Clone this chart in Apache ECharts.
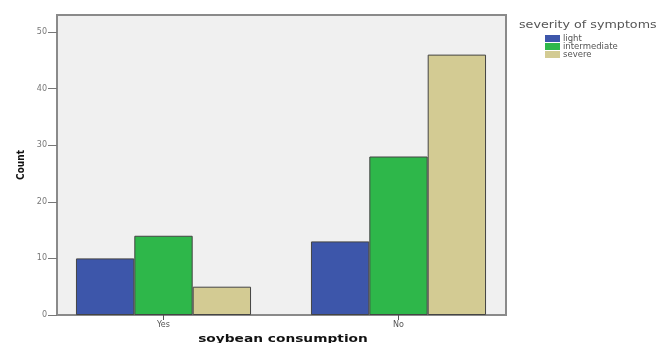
<!DOCTYPE html>
<html><head><meta charset="utf-8">
<script src="https://cdn.jsdelivr.net/npm/echarts@6/dist/echarts.min.js"></script>
<style>html,body{margin:0;padding:0;background:#fff}#c{width:663px;height:343px}</style>
</head><body><div id="c"></div>
<script>
var categories = ['Yes', 'No'];
var seriesNames = ['light', 'intermediate', 'severe'];
var lightVals = [10, 13];
var intermediateVals = [14, 28];
var severeVals = [5, 46];
var yTicks = [0, 10, 20, 30, 40, 50];
var colors = ['#3d56aa', '#2eb74a', '#d3cb93'];
var legendTitle = 'severity of symptoms';
var xTitle = 'soybean consumption';

var chart = echarts.init(document.getElementById('c'));
var vals = [lightVals, intermediateVals, severeVals];
chart.setOption({
  animation: false,
  graphic: [
    {type: 'text', x: 519, y: 25, scaleX: 1.27, z: 10,
     style: {text: legendTitle, font: '10px "DejaVu Sans"', fill: '#555', textAlign: 'left', textVerticalAlign: 'middle'}},
    {type: 'text', x: 283, y: 339, scaleX: 1.25, z: 10,
     style: {text: xTitle, font: 'bold 11px "DejaVu Sans"', fill: '#111', textAlign: 'center', textVerticalAlign: 'middle'}}
  ],
  legend: {
    orient: 'vertical', left: 545, top: 34, itemWidth: 15, itemHeight: 7, itemGap: -1,
    icon: 'rect', padding: 0,
    itemStyle: {borderWidth: 0},
    textStyle: {fontSize: 8.5, lineHeight: 7, color: '#555', fontFamily: 'DejaVu Sans', padding: [0, 0, 0, -2]},
    data: seriesNames
  },
  grid: [
    {left: 46, right: 147, top: 15, bottom: 28, containLabel: false, outerBoundsMode: 'none'},
    {left: 57, right: 157, top: 15, bottom: 28, show: true, backgroundColor: '#f0f0f0', borderColor: '#8a8a8a', borderWidth: 2, z: 0, outerBoundsMode: 'none'}
  ],
  xAxis: [
    {type: 'category', data: categories, gridIndex: 0,
     axisLine: {show: false},
     axisTick: {show: true, alignWithLabel: true, length: 5, lineStyle: {color: '#555'}},
     axisLabel: {fontSize: 8, color: '#555', margin: 6, fontFamily: 'DejaVu Sans'}
    },
    {type: 'category', gridIndex: 1, show: false, data: categories}
  ],
  yAxis: [
    {type: 'value', gridIndex: 0, min: 0, max: 53, interval: 10, offset: -11,
     axisLine: {show: false},
     axisTick: {show: true, length: 9, customValues: yTicks, lineStyle: {color: '#777'}},
     axisLabel: {fontSize: 8, color: '#777', margin: 10, customValues: yTicks, fontFamily: 'DejaVu Sans'},
     splitLine: {show: false},
     name: 'Count', nameLocation: 'middle', nameGap: 30, nameRotate: 90,
     nameTextStyle: {fontSize: 10, fontWeight: 'bold', color: '#111', fontFamily: 'DejaVu Sans Condensed'}
    },
    {type: 'value', gridIndex: 1, show: false, min: 0, max: 53}
  ],
  series: seriesNames.map(function (n, i) {
    return {
      name: n, type: 'bar', xAxisIndex: 0, yAxisIndex: 0, data: vals[i],
      barGap: '0%', barCategoryGap: '25.5%', z: 3,
      itemStyle: {color: colors[i], borderColor: '#444', borderWidth: 1}
    };
  })
});
</script></body></html>
